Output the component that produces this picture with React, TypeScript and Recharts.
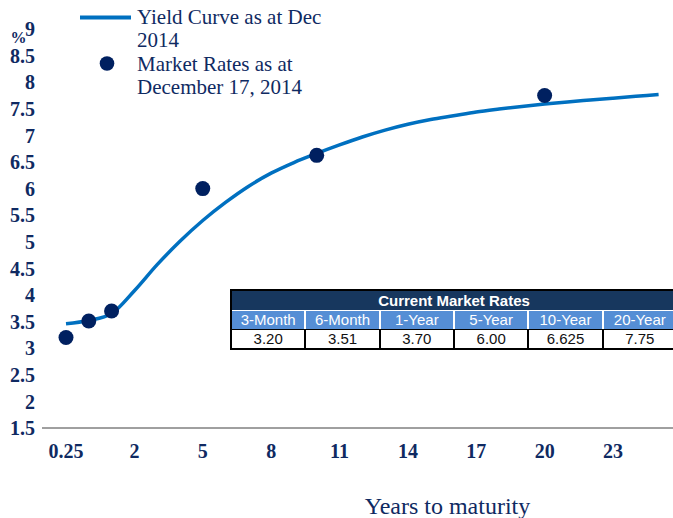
import { LineChart, Line, XAxis, YAxis } from 'recharts'

const maturities = [
  '0.25', '0.5', '1', '2', '3', '4', '5', '6', '7', '8', '9', '10', '11', '12',
  '13', '14', '15', '16', '17', '18', '19', '20', '21', '22', '23', '24', '25',
]
const yieldCurve = [
  3.46, 3.52, 3.65, 4.08, 4.57, 5.01, 5.4, 5.74, 6.04, 6.29, 6.49, 6.66, 6.82, 6.97,
  7.1, 7.21, 7.3, 7.37, 7.44, 7.495, 7.545, 7.59, 7.63, 7.665, 7.7, 7.735, 7.77,
]
const marketYears = ['0.25', '0.5', '1', '5', '10', '20']
const marketRates = [3.2, 3.51, 3.7, 6.0, 6.625, 7.75]

const tableHeaders = ['3-Month', '6-Month', '1-Year', '5-Year', '10-Year', '20-Year']
const tableValues = ['3.20', '3.51', '3.70', '6.00', '6.625', '7.75']

const yTicks = [1.5, 2, 2.5, 3, 3.5, 4, 4.5, 5, 5.5, 6, 6.5, 7, 7.5, 8, 8.5, 9]

const NAVY = '#0f2a62'
const BLUE = '#0070c0'
const DOT = '#002060'
const SERIF = '"Liberation Serif", "Times New Roman", serif'
const SANS = '"Liberation Sans", Arial, sans-serif'

const data = maturities.map((m, i) => {
  const k = marketYears.indexOf(m)
  return { m, curve: yieldCurve[i], market: k >= 0 ? marketRates[k] : null }
})

const YTick = ({ x, y, payload }: any) => (
  <g>
    <text x={x} y={y} dy="0.355em" textAnchor="end" fill={NAVY}
      style={{ fontFamily: SERIF, fontSize: 20, fontWeight: 700 }}>
      {payload.value}
    </text>
    {payload.value === 9 && (
      <text x={26.5} y={43} textAnchor="end" fill={NAVY}
        style={{ fontFamily: SERIF, fontSize: 16, fontWeight: 700 }}>
        %
      </text>
    )}
  </g>
)

export default function App() {
  return (
    <div style={{ position: 'absolute', left: 0, top: 0, width: 673, height: 518, overflow: 'hidden', background: '#fff' }}>
      <LineChart width={673} height={518} data={data} margin={{ top: 29, right: 0, bottom: 0, left: 0 }}>
        <XAxis
          dataKey="m"
          interval={2}
          height={90}
          padding={{ left: 24, right: 14.4 }}
          tickLine={false}
          tickSize={0}
          tickMargin={16}
          axisLine={{ stroke: '#404040', strokeWidth: 1 }}
          tick={{ fill: NAVY, fontSize: 20, fontWeight: 700, fontFamily: SERIF }}
          label={{ value: 'Years to maturity', position: 'insideBottom', offset: 4, dx: 90, fill: NAVY, fontSize: 24, fontFamily: SERIF }}
        />
        <YAxis
          domain={[1.5, 9]}
          ticks={yTicks}
          width={42}
          axisLine={false}
          tickLine={false}
          tickSize={0}
          tickMargin={7}
          tick={<YTick />}
        />
        <Line dataKey="curve" type="monotone" stroke={BLUE} strokeWidth={3.5} dot={false} activeDot={false} isAnimationActive={false} />
        <Line dataKey="market" stroke="none" dot={{ r: 7.5, fill: DOT, stroke: DOT, strokeWidth: 0 }} activeDot={false} isAnimationActive={false} />
      </LineChart>

      <div style={{ position: 'absolute', left: 0, top: 0, fontFamily: SERIF, fontSize: 21, lineHeight: '23.4px', color: NAVY }}>
        <svg width={140} height={80} style={{ position: 'absolute', left: 0, top: 0 }}>
          <line x1={80} y1={17.5} x2={131} y2={17.5} stroke={BLUE} strokeWidth={4} />
          <circle cx={107} cy={63.5} r={7.3} fill={DOT} />
        </svg>
        <div style={{ position: 'absolute', left: 137, top: 6, whiteSpace: 'nowrap' }}>
          Yield Curve as at Dec<br />2014
        </div>
        <div style={{ position: 'absolute', left: 137, top: 53, whiteSpace: 'nowrap' }}>
          Market Rates as at<br />December 17, 2014
        </div>
      </div>

      <div style={{ position: 'absolute', left: 230, top: 289, width: 448, border: '2px solid #000', background: '#000', fontFamily: SANS, boxSizing: 'border-box' }}>
        <div style={{ background: '#17375e', color: '#fff', fontWeight: 700, fontSize: 15, height: 19, lineHeight: '19px', textAlign: 'center' }}>
          Current Market Rates
        </div>
        <div style={{ display: 'flex', background: '#fff', paddingTop: 1 }}>
          {tableHeaders.map((h, i) => (
            <div key={h} style={{ flex: 1, background: '#558ed5', color: '#fff', fontSize: 15, height: 18, lineHeight: '18px', textAlign: 'center', marginLeft: i ? 2 : 0 }}>
              {h}
            </div>
          ))}
        </div>
        <div style={{ display: 'flex', background: '#000', paddingTop: 1 }}>
          {tableValues.map((v, i) => (
            <div key={i} style={{ flex: 1, background: '#fff', color: '#111', fontSize: 15, height: 18, lineHeight: '18px', textAlign: 'center', marginLeft: i ? 2 : 0 }}>
              {v}
            </div>
          ))}
        </div>
      </div>
    </div>
  )
}
